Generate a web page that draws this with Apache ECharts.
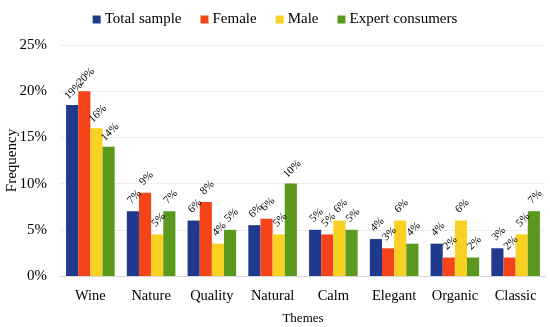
<!DOCTYPE html>
<html><head><meta charset="utf-8">
<script src="https://cdn.jsdelivr.net/npm/echarts@6/dist/echarts.min.js"></script>
<style>html,body{margin:0;padding:0;background:#fff}#c{width:550px;height:327px}</style>
</head><body><div id="c"></div>
<script>
const categories = ['Wine','Nature','Quality','Natural','Calm','Elegant','Organic','Classic'];
const totalSample = [18.5, 7, 6, 5.5, 5, 4, 3.5, 3];
const female = [20, 9, 8, 6.2, 4.5, 3, 2, 2];
const male = [16, 4.5, 3.5, 4.5, 6, 6, 6, 4.5];
const expert = [14, 7, 5, 10, 5, 3.5, 2, 7];
const yTicks = [0, 5, 10, 15, 20, 25];

const FONT = '"Liberation Serif", "DejaVu Serif", serif';
const names = ['Total sample','Female','Male','Expert consumers'];
const colors = ['#1f3a8c','#f5441a','#f8d122','#5a991e'];
const data = [totalSample, female, male, expert];

const chart = echarts.init(document.getElementById('c'));
chart.setOption({
  animation: false,
  textStyle: {fontFamily: FONT},
  legend: {
    top: 7, left: 'center', itemWidth: 8, itemHeight: 8, itemGap: 19,
    icon: 'rect',
    textStyle: {fontFamily: FONT, fontSize: 15, color: '#000', padding:[0,0,0,-1]},
    data: names
  },
  grid: {left: 60, right: 4, top: 45, bottom: 51, outerBoundsMode: 'none', containLabel: false},
  xAxis: {
    type: 'category', data: categories,
    name: 'Themes', nameLocation: 'middle', nameGap: 36, nameMoveOverlap: false,
    nameTextStyle: {fontFamily: FONT, fontSize: 13, color: '#000'},
    axisTick: {show: false},
    axisLine: {lineStyle: {color: '#d9d9d9'}},
    axisLabel: {interval: 0, fontFamily: FONT, fontSize: 14.5, color: '#000', margin: 13}
  },
  yAxis: {
    type: 'value', min: yTicks[0], max: yTicks[yTicks.length-1], interval: 5,
    name: 'Frequency', nameLocation: 'middle', nameGap: 48, nameMoveOverlap: false,
    nameTextStyle: {fontFamily: FONT, fontSize: 15, color: '#000', verticalAlign: 'middle'},
    axisLine: {show: false}, axisTick: {show: false},
    splitLine: {lineStyle: {color: '#ededed'}},
    axisLabel: {fontFamily: FONT, fontSize: 15, color: '#000', margin: 13,
      formatter: v => v + '%'}
  },
  series: names.map((n, i) => ({
    name: n, type: 'bar', data: data[i],
    barGap: '0%', barCategoryGap: '20%',
    itemStyle: {color: colors[i]},
    label: {
      show: true, position: 'top', rotate: 45, align: 'center', verticalAlign: 'middle',
      distance: 13, offset: [2, 0], fontFamily: FONT, fontSize: 11, color: '#000',
      formatter: p => Math.round(p.value) + '%'
    }
  }))
});
</script></body></html>
